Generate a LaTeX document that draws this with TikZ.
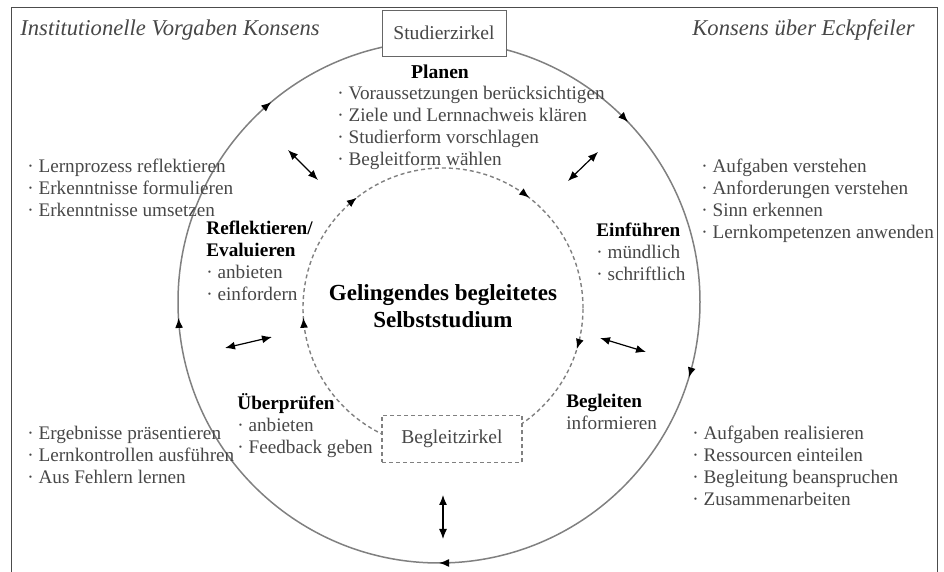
\documentclass[tikz,border=0pt]{standalone}
\usepackage{fontspec}
\setmainfont{Liberation Serif}
\usetikzlibrary{calc,arrows.meta}
\definecolor{txtgray}{gray}{0.28}
\definecolor{ringgray}{gray}{0.5}
\tikzset{
  ring/.style={draw=ringgray, line width=0.75pt},
  dashring/.style={draw=ringgray, line width=0.7pt, dash pattern=on 2pt off 1.5pt},
  tip/.style={ringgray, line width=0.7pt, -{Latex[length=5pt,width=4pt,color=black]}},
  both/.style={black, line width=0.6pt, {Latex[length=5pt,width=4pt]}-{Latex[length=5pt,width=4pt]}},
  lbl/.style={font=\fontsize{9.6}{11}\selectfont, text=txtgray, align=left, inner sep=0pt, anchor=north west},
  ttl/.style={font=\fontsize{11.3}{13}\selectfont\itshape, text=txtgray, inner sep=0pt, anchor=west},
  hd/.style={text=black, font=\fontsize{9.8}{11}\selectfont\bfseries}
}
\def\cwtip[#1](#2)(#3:#4){\draw[#1] ($(#2)+({#4*cos(#3+2)},{#4*sin(#3+2)})$) arc (#3+2:#3:#4);}

\begin{document}
\begin{tikzpicture}[x=0.5pt,y=0.5pt]
				\useasboundingbox (0,0) rectangle (944,572);
				\draw[black!70, line width=0.5pt] (11,-2) -- (11,564) -- (937,564) -- (937,-2);
				
				% outer ring
				\coordinate (outer) at (439,270);
				\draw[ring] (outer) circle (261);
				\cwtip[tip](outer)(130:261);
				\cwtip[tip](outer)(43.6:261);
				\cwtip[tip](outer)(-16.8:261);
				\cwtip[tip](outer)(-90:261);
				\cwtip[tip](outer)(183.5:261);
				
				% inner ring
				\coordinate (inner) at (443,264);
				\draw[dashring] (inner) circle (140);
				\cwtip[tip](inner)(128:140);
				\cwtip[tip](inner)(52:140);
				\cwtip[tip](inner)(-17:140);
				\cwtip[tip](inner)(184:140);
				
				\node[draw=black!60, fill=white, minimum width=62pt, minimum height=23pt, font=\fontsize{9.8}{11}\selectfont, text=txtgray] (studier) at (444,539) {Studierzirkel};
				\node[dashring, fill=white, minimum width=70pt, minimum height=23.5pt, font=\fontsize{9.8}{11}\selectfont, text=txtgray] (begleit) at (452,133) {Begleitzirkel};
				
				\node[ttl] (inst) at (20,542) {Institutionelle Vorgaben Konsens};
				\node[ttl] (eck) at (692,542) {Konsens über Eckpfeiler};
				
				\node[hd] (planen) at (440,500) {Planen};
				\node[lbl] (planlist) at (337,486.5) {· Voraussetzungen berücksichtigen\\· Ziele und Lernnachweis klären\\· Studierform vorschlagen\\· Begleitform wählen};
				
				\node[lbl] (reflist) at (27,413.5) {· Lernprozess reflektieren\\· Erkenntnisse formulieren\\· Erkenntnisse umsetzen};
				\node[lbl] (reflekt) at (206,351.5) {\textbf{\color{black}Reflektieren/}\\\textbf{\color{black}Evaluieren}\\· anbieten\\· einfordern};
				
				\node[font=\fontsize{11.5}{13.5}\selectfont\bfseries, align=center, inner sep=0pt] (center) at (443,265.5) {Gelingendes begleitetes\\Selbststudium};
				
				\node[lbl] (einf) at (596,349.5) {\textbf{\color{black}Einführen}\\· mündlich\\· schriftlich};
				\node[lbl] (einflist) at (701,413.5) {· Aufgaben verstehen\\· Anforderungen verstehen\\· Sinn erkennen\\· Lernkompetenzen anwenden};
				
				\node[lbl] (pruef) at (237,178.5) {\textbf{\color{black}Überprüfen}\\· anbieten\\· Feedback geben};
				\node[lbl] (pruelist) at (27,146.5) {· Ergebnisse präsentieren\\· Lernkontrollen ausführen\\· Aus Fehlern lernen};
				
				\node[lbl] (begl) at (566,178.5) {\textbf{\color{black}Begleiten}\\informieren};
				\node[lbl] (begllist) at (692,146.5) {· Aufgaben realisieren\\· Ressourcen einteilen\\· Begleitung beanspruchen\\· Zusammenarbeiten};
				
				% exchange arrows
				\coordinate (a1) at (288,422); \coordinate (b1) at (318,392);
				\coordinate (a2) at (598,420); \coordinate (b2) at (568,391);
				\coordinate (a3) at (225,224); \coordinate (b3) at (272,235);
				\coordinate (a4) at (600,234); \coordinate (b4) at (646,220);
				\coordinate (a5) at (443,77);  \coordinate (b5) at (443,33);
				\foreach \i in {1,...,5} \draw[both] (a\i) -- (b\i);
\end{tikzpicture}
\end{document}
